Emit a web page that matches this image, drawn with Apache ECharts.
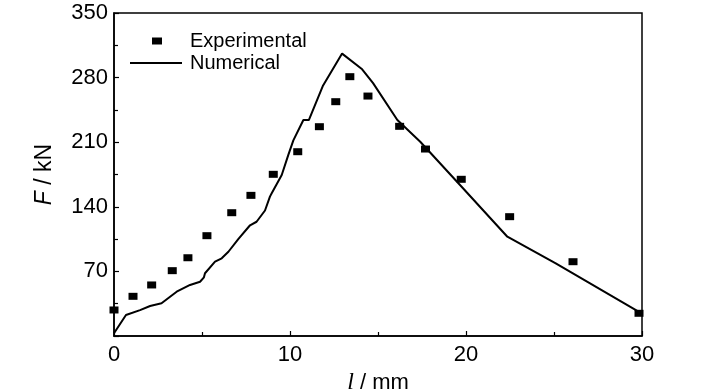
<!DOCTYPE html>
<html>
<head>
<meta charset="utf-8">
<script src="https://cdn.jsdelivr.net/npm/echarts@6/dist/echarts.min.js"></script>
<style>
html,body{margin:0;padding:0;background:#fff;}
#chart{width:728px;height:390px;}
</style>
</head>
<body>
<div id="chart"></div>
<script>
// Experimental data (l in mm, F in kN)
var expX = [0, 1.08, 2.14, 3.31, 4.2, 5.28, 6.69, 7.78, 9.05, 10.44, 11.67, 12.6, 13.4, 14.43, 16.23, 17.7, 19.73, 22.48, 26.08, 29.83];
var expY = [28.2, 43, 55.3, 70.8, 84.8, 108.7, 133.6, 152.4, 175.2, 199.7, 226.8, 253.9, 281, 260, 227.2, 202.6, 169.8, 129.3, 80.5, 24.6];
// Numerical curve
var numX = [0, 0.68, 1.48, 2.05, 2.7, 3.56, 4.32, 4.89, 5.11, 5.17, 5.74, 6.12, 6.5, 7.06, 7.73, 8.1, 8.58, 8.86, 8.96, 9.53, 9.9, 10.19, 10.76, 11.07, 11.88, 12.96, 14.1, 14.72, 16.1, 17.4, 19.66, 22.35, 25.1, 29.9];
var numY = [3, 22.7, 28, 32.5, 35.4, 48, 55.3, 58.8, 63.6, 68, 80.5, 84.2, 91.3, 105, 120, 123.8, 136, 151, 154.6, 174.4, 196, 212, 234, 234, 271.5, 306, 289, 274, 234, 210.5, 163.6, 107.6, 78.8, 25.3];
var seriesNames = ['Experimental', 'Numerical'];

function zip(a, b) { return a.map(function (v, i) { return [v, b[i]]; }); }

var sans = '"Liberation Sans", Arial, sans-serif';
var serif = '"Liberation Serif", "DejaVu Serif", serif';

var chart = echarts.init(document.getElementById('chart'), null, {renderer: 'canvas'});
chart.setOption({
  animation: false,
  backgroundColor: '#fff',
  grid: {left: 114, right: 86, top: 13, bottom: 54, containLabel: false, outerBoundsMode: 'none',
    show: true, borderColor: '#000', borderWidth: 1.5, backgroundColor: 'transparent'},
  legend: [
    {
      data: [{name: seriesNames[0], icon: 'rect', itemStyle: {color: '#000', opacity: 1}}],
      left: 152, top: 31, padding: 0,
      itemWidth: 10, itemHeight: 7,
      textStyle: {fontFamily: sans, fontSize: 20, color: '#000', padding: [0, 0, 0, 23]}
    },
    {
      data: [{name: seriesNames[1], icon: 'rect', itemStyle: {color: '#000', opacity: 1}}],
      left: 130, top: 53, padding: 0,
      itemWidth: 52, itemHeight: 2,
      textStyle: {fontFamily: sans, fontSize: 20, color: '#000', padding: [0, 0, 0, 3]}
    }
  ],
  xAxis: {
    type: 'value', min: 0, max: 30, interval: 10,
    name: '{i|l} / mm', nameLocation: 'middle', nameGap: 28,
    nameTextStyle: {fontFamily: sans, fontSize: 22, color: '#000',
      rich: {i: {fontFamily: serif, fontSize: 24, fontStyle: 'italic', color: '#000'}}},
    axisLine: {show: true, lineStyle: {color: '#000', width: 1.5}},
    axisTick: {show: true, inside: true, length: 5, lineStyle: {color: '#000', width: 1.2}},
    minorTick: {show: true, splitNumber: 2, length: 4, lineStyle: {color: '#000', width: 1.2}},
    axisLabel: {fontFamily: sans, fontSize: 22, color: '#000', margin: 8},
    splitLine: {show: false}
  },
  yAxis: {
    type: 'value', min: 0, max: 350, interval: 70,
    name: '{i|F} / kN', nameLocation: 'middle', nameGap: 58, nameRotate: 90,
    nameTextStyle: {fontFamily: sans, fontSize: 23, color: '#000',
      rich: {i: {fontFamily: sans, fontSize: 23, fontStyle: 'italic', color: '#000'}}},
    axisLine: {show: true, lineStyle: {color: '#000', width: 1.5}},
    axisTick: {show: true, inside: true, length: 5, lineStyle: {color: '#000', width: 1.2}},
    minorTick: {show: true, splitNumber: 2, length: 4, lineStyle: {color: '#000', width: 1.2}},
    axisLabel: {fontFamily: sans, fontSize: 22, color: '#000', margin: 6, showMinLabel: false},
    splitLine: {show: false}
  },
  series: [
    {
      name: seriesNames[0], type: 'scatter',
      data: zip(expX, expY),
      symbol: 'rect', symbolSize: [9, 7],
      itemStyle: {color: '#000', opacity: 1},
      z: 3
    },
    {
      name: seriesNames[1], type: 'line',
      data: zip(numX, numY),
      symbol: 'none', showSymbol: false,
      lineStyle: {color: '#000', width: 2},
      itemStyle: {color: '#000'},
      clip: false,
      z: 2
    }
  ]
});
</script>
</body>
</html>
